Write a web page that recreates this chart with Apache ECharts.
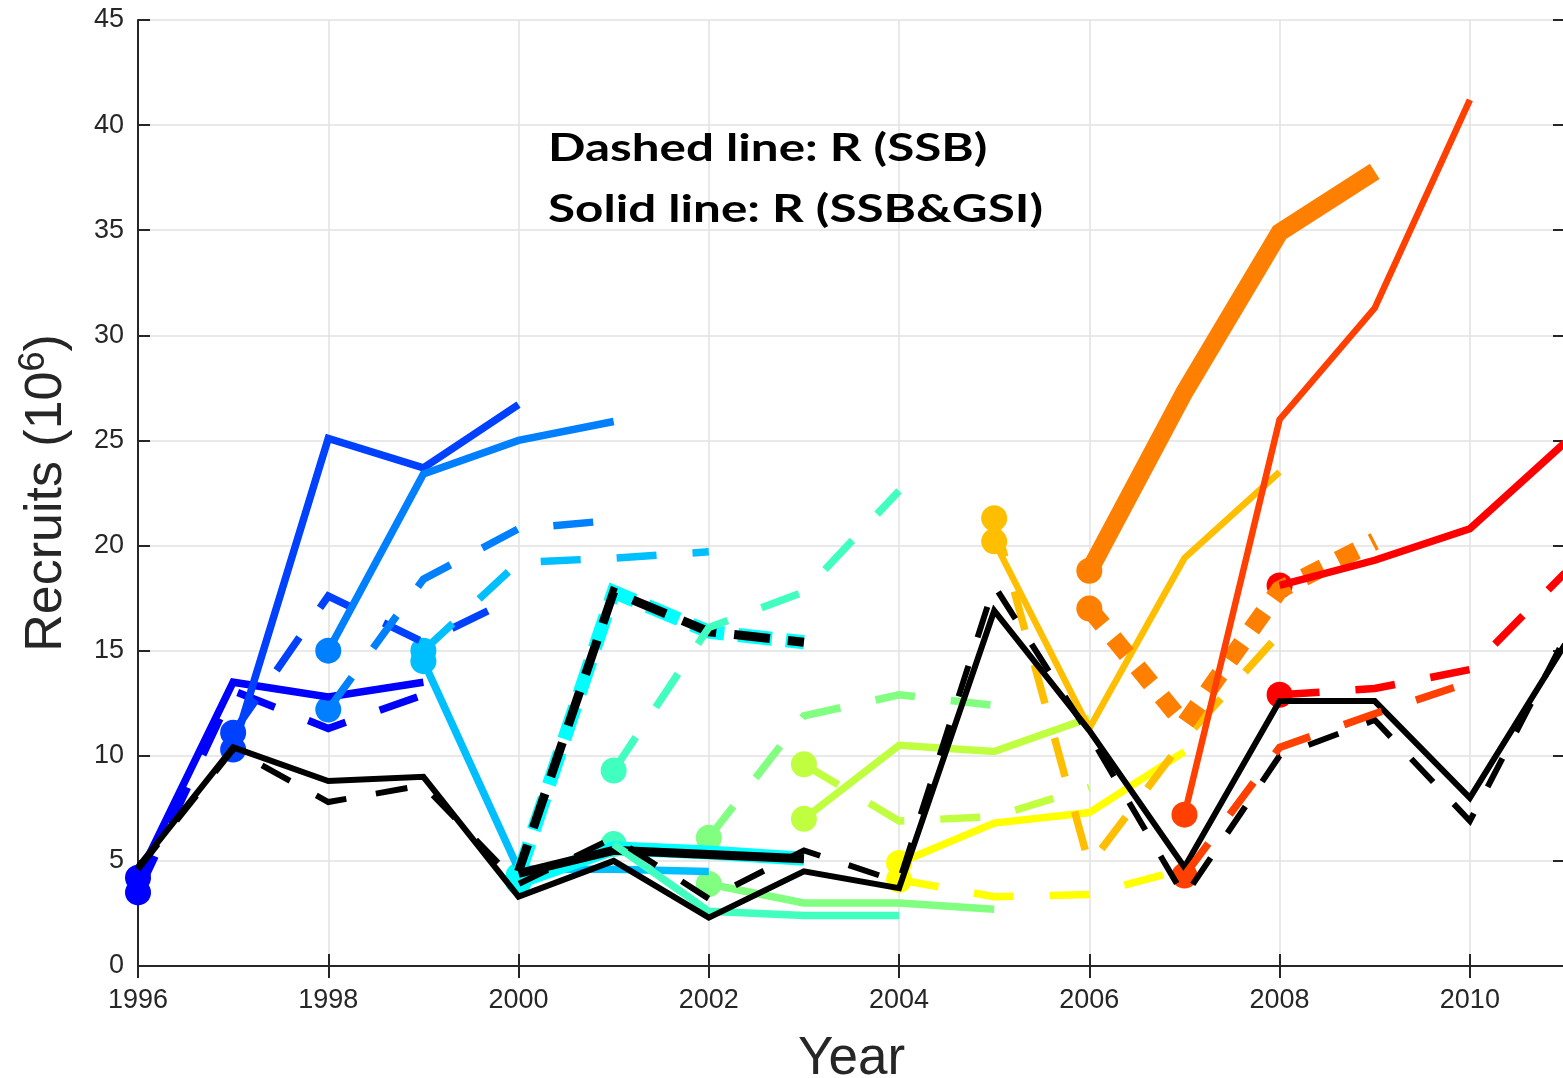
<!DOCTYPE html>
<html><head><meta charset="utf-8">
<script src="https://cdn.jsdelivr.net/npm/echarts@6/dist/echarts.min.js"></script>
<style>html,body{margin:0;padding:0;background:#fff}#c{width:1563px;height:1078px}</style>
</head><body><div id="c"></div>
<script>
// ---- data ----
const xTickYears = [1996, 1998, 2000, 2002, 2004, 2006, 2008, 2010];
const yTicks = [0, 5, 10, 15, 20, 25, 30, 35, 40, 45];
const allYears = [1996,1997,1998,1999,2000,2001,2002,2003,2004,2005,2006,2007,2008,2009,2010,2011];
const cohortYears = [1996,1997,1998,1999,2000,2001,2002,2003,2004,2005,2006,2007,2008];

// R (SSB&GSI) solid, R (SSB) dashed; each starts at its cohort year
const solid1996 = [4.2, 13.5, 12.8, 13.5];
const dashed1996 = [3.5, 13.1, 11.3, 12.9];
const solid1997 = [10.3, 25.1, 23.7, 26.7];
const dashed1997 = [11.1, 17.6, 15.4, 17.6];
const solid1998 = [15.0, 23.4, 25.0, 25.9];
const dashed1998 = [12.2, 18.4, 20.8, 21.2];
const solid1999 = [14.5, 4.6, 4.6, 4.5];
const dashed1999 = [15.0, 19.2, 19.4, 19.7];
const solid2000 = [4.0, 5.6, 5.4, 5.1];
const dashed2000 = [4.3, 17.8, 15.9, 15.4];
const overlaySolid2000 = [4.4, 5.5, 5.3, 5.1];
const overlayDashed2000 = [4.5, 17.8, 15.9, 15.4];
const solid2001 = [5.8, 2.6, 2.4, 2.4];
const dashed2001 = [9.3, 16.1, 17.8, 22.6];
const solid2002 = [3.9, 3.0, 3.0, 2.7];
const dashed2002 = [6.1, 11.9, 12.9, 12.4];
const solid2003 = [7.0, 10.5, 10.2, 11.8];
const dashed2003 = [9.6, 6.9, 7.1, 8.5];
const solid2004 = [4.9, 6.8, 7.3, 10.2];
const dashed2004 = [4.1, 3.3, 3.4, 4.6];
const solid2005 = [20.2, 11.3, 19.4, 23.5];
const dashed2005 = [21.3, 4.8, 10.8, 15.8];
const solid2006 = [18.8, 27.3, 34.9, 37.8];
const dashed2006 = [17.0, 11.5, 17.9, 20.2];
const solid2007 = [7.2, 26.0, 31.3, 41.2];
const dashed2007 = [4.3, 10.4, 12.0, 13.5];
const solid2008 = [18.1, 19.3, 20.8, 24.9];
const dashed2008 = [12.9, 13.2, 14.1, 18.7];

// black reference lines across all years
const blackSolid = [4.7, 10.4, 8.8, 9.0, 3.3, 5.0, 2.3, 4.5, 3.7, 16.9, 11.2, 4.7, 12.6, 12.6, 8.0, 15.3];
const blackDashed = [4.6, 10.3, 7.8, 8.6, 3.9, 6.1, 3.2, 5.5, 4.0, 18.1, 11.0, 3.3, 10.0, 11.7, 6.9, 15.6];

const solids = [solid1996,solid1997,solid1998,solid1999,solid2000,solid2001,solid2002,solid2003,solid2004,solid2005,solid2006,solid2007,solid2008];
const dashes = [dashed1996,dashed1997,dashed1998,dashed1999,dashed2000,dashed2001,dashed2002,dashed2003,dashed2004,dashed2005,dashed2006,dashed2007,dashed2008];

// ---- styles ----
const colors = ['#0000FF','#0040FF','#0080FF','#00BFFF','#00FFFF','#40FFBF','#80FF80','#BFFF40','#FFFF00','#FFBF00','#FF8000','#FF4000','#FF0000'];
const solidWidth = {2000: 14, 2005: 6.5, 2006: 18, 2007: 6.5};
const dashWidth = {2000: 14, 2006: 18};
const dashPattern = {2000: [34, 14], 2006: [21, 17]};
const AX = '#262626';
const FONT = '"Liberation Sans", Arial, Helvetica, sans-serif';

function pts(start, vals) { return vals.map((v, i) => [start + i, v]); }

function cohortLines(k) {
  const y = cohortYears[k], c = colors[k];
  return [
    {type:'line', data: pts(y, solids[k]), symbol:'none', silent:true,
     lineStyle:{color:c, width: solidWidth[y] || 7.5, join:'miter'}},
    {type:'line', data: pts(y, dashes[k]), symbol:'none', silent:true,
     lineStyle:{color:c, width: dashWidth[y] || 7.5, type: dashPattern[y] || [40, 36], cap:'butt', join:'miter'}}
  ];
}
function cohortMarks(k) {
  const y = cohortYears[k];
  return {type:'scatter', symbol:'circle', symbolSize:26, silent:true,
    itemStyle:{color:colors[k], opacity:1}, data:[[y, solids[k][0]], [y, dashes[k][0]]]};
}

const series = [];
for (let k = 0; k <= 10; k++) {
  series.push(...cohortLines(k));
  if (cohortYears[k] === 2000) {
    series.push({type:'line', data: pts(2000, overlaySolid2000), symbol:'none', silent:true,
      lineStyle:{color:'#000', width:9, join:'miter'}});
    series.push({type:'line', data: pts(2000, overlayDashed2000), symbol:'none', silent:true,
      lineStyle:{color:'#000', width:9, type:[36, 18], dashOffset: 8, cap:'butt', join:'miter'}});
  }
}
series.push({type:'line', data: allYears.map((y,i)=>[y, blackSolid[i]]), symbol:'none', silent:true,
  lineStyle:{color:'#000', width:6, join:'miter'}});
series.push({type:'line', data: allYears.map((y,i)=>[y, blackDashed[i]]), symbol:'none', silent:true,
  lineStyle:{color:'#000', width:6, type:[32, 30], cap:'butt', join:'miter'}});
for (let k = 0; k <= 10; k++) series.push(cohortMarks(k));
for (let k = 11; k <= 12; k++) { series.push(...cohortLines(k)); series.push(cohortMarks(k)); }

const chart = echarts.init(document.getElementById('c'), null, {renderer:'canvas'});
chart.setOption({
  animation:false,
  backgroundColor:'#fff',
  grid:{left:138, top:20, right:-2, bottom:112, containLabel:false, outerBoundsMode:'none'},
  xAxis:[{
    type:'value', min:xTickYears[0], max:2011, interval:2, position:'bottom',
    axisLine:{lineStyle:{color:AX, width:2}},
    axisTick:{inside:true, length:12, lineStyle:{color:AX, width:2}},
    axisLabel:{color:AX, fontSize:27, fontFamily:FONT, margin:21, showMaxLabel:false,
      formatter: v => xTickYears.includes(v) ? String(v) : ''},
    splitLine:{show:true, lineStyle:{color:'#e2e2e2', width:1.5}},
    name:'Year', nameLocation:'middle', nameGap:67,
    nameTextStyle:{color:AX, fontSize:53, fontFamily:FONT}
  },{
    type:'value', min:xTickYears[0], max:2011, interval:2, position:'top',
    axisLine:{lineStyle:{color:AX, width:2}},
    axisTick:{inside:true, length:12, lineStyle:{color:AX, width:2}},
    axisLabel:{show:false}, splitLine:{show:false}
  }],
  yAxis:[{
    type:'value', min:yTicks[0], max:yTicks[yTicks.length-1], interval:5,
    axisLine:{show:true, lineStyle:{color:AX, width:2}},
    axisTick:{show:true, inside:true, length:12, lineStyle:{color:AX, width:2}},
    axisLabel:{color:AX, fontSize:27, fontFamily:FONT, margin:14},
    splitLine:{show:true, lineStyle:{color:'#e2e2e2', width:1.5}},
    name:'Recruits (10{sup|6})', nameLocation:'middle', nameGap:60,
    nameTextStyle:{color:AX, fontSize:52, fontFamily:FONT,
      rich:{sup:{fontSize:36, fontFamily:FONT, color:AX, verticalAlign:'top', padding:[0,0,26,0]}}}
  },{
    type:'value', min:yTicks[0], max:yTicks[yTicks.length-1], interval:5, position:'right',
    axisLine:{show:true, lineStyle:{color:AX, width:2}},
    axisTick:{show:true, inside:true, length:12, lineStyle:{color:AX, width:2}},
    axisLabel:{show:false}, splitLine:{show:false}
  }],
  graphic:[
    {type:'text', x:548, y:149, scaleX:1.3, z:100,
     style:{text:'Dashed line: R (SSB)', font:'bold 38px Lato, "Open Sans", sans-serif', fill:'#000', verticalAlign:'middle'}},
    {type:'text', x:548, y:210, scaleX:1.3, z:100,
     style:{text:'Solid line: R (SSB&GSI)', font:'bold 38px Lato, "Open Sans", sans-serif', fill:'#000', verticalAlign:'middle'}}
  ],
  series: series
});
</script></body></html>
